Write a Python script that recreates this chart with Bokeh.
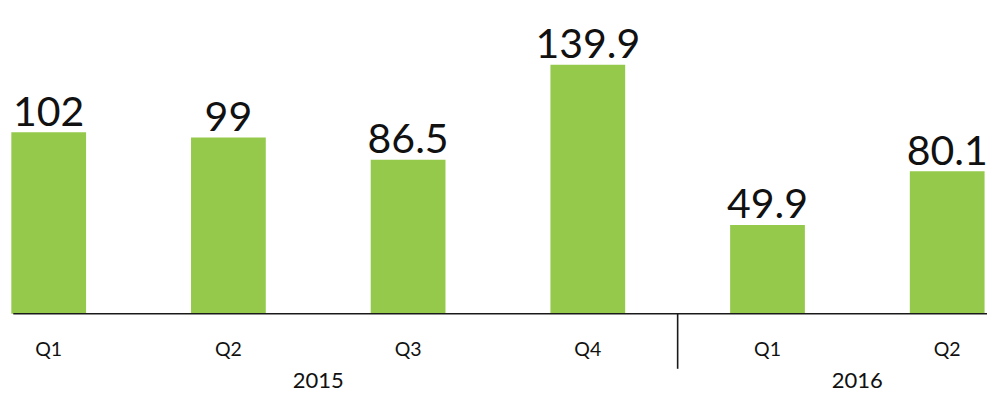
from bokeh.plotting import figure
from bokeh.models import Range1d, ColumnDataSource
from bokeh.core.properties import value
from bokeh.embed import file_html
from bokeh.resources import INLINE

# ---- data ----
quarters = ["Q1", "Q2", "Q3", "Q4", "Q1", "Q2"]
values = [102, 99, 86.5, 139.9, 49.9, 80.1]
value_labels = ["102", "99", "86.5", "139.9", "49.9", "80.1"]
years = ["2015", "2016"]
year_quarters = [4, 2]

# ---- layout ----
W, H = 987, 394
SPACING = 179.7                 # px per category
X0 = -48.2 / SPACING
X1 = X0 + W / SPACING
BASE = 313.3                    # px from top to baseline
PXU = 1.781                     # px per value unit
Y1 = BASE / PXU
Y0 = -(H - BASE) / PXU

xs = list(range(len(values)))

p = figure(width=W, height=H, output_backend="svg", toolbar_location=None,
           x_range=Range1d(X0, X1), y_range=Range1d(Y0, Y1),
           min_border=0, min_border_left=0, min_border_right=0,
           min_border_top=0, min_border_bottom=0)
p.axis.visible = False
p.grid.visible = False
p.outline_line_color = None
p.background_fill_color = "white"
p.border_fill_color = "white"

GREEN = "#95c94c"
INK = "#111111"
FONT = value("Lato")

src = ColumnDataSource(dict(x=xs, top=values, lab=value_labels, q=quarters))
p.vbar(x="x", top="top", bottom=0, width=0.416, source=src,
       fill_color=GREEN, line_color=None)

# baseline axis line
p.segment(x0=[X0 + 12.8 / SPACING], y0=[0], x1=[X1], y1=[0],
          line_color="#1a1a1a", line_width=1.6)

# separator between years
sep_x = year_quarters[0] - 0.5
p.segment(x0=[sep_x], y0=[0], x1=[sep_x], y1=[-55 / PXU],
          line_color="#1a1a1a", line_width=1.6)

# value labels
p.text(x="x", y="top", text="lab", source=src, text_font=FONT,
       text_font_size="41px", text_align="center",
       text_baseline="alphabetic", y_offset=-21, text_color=INK)

# quarter labels
p.text(x="x", y=0, text="q", source=src, text_font=FONT,
       text_font_size="19.5px", text_align="center",
       text_baseline="alphabetic", y_offset=34.5, text_color=INK)

# year labels
yx = []
start = 0
for n in year_quarters:
    yx.append(start + (n - 1) / 2)
    start += n
p.text(x=yx, y=[0] * len(yx), text=years, text_font=FONT,
       text_font_size="22px", text_align="center",
       text_baseline="alphabetic", y_offset=67, text_color=INK)

open("out.html", "w").write(file_html(p, INLINE))
